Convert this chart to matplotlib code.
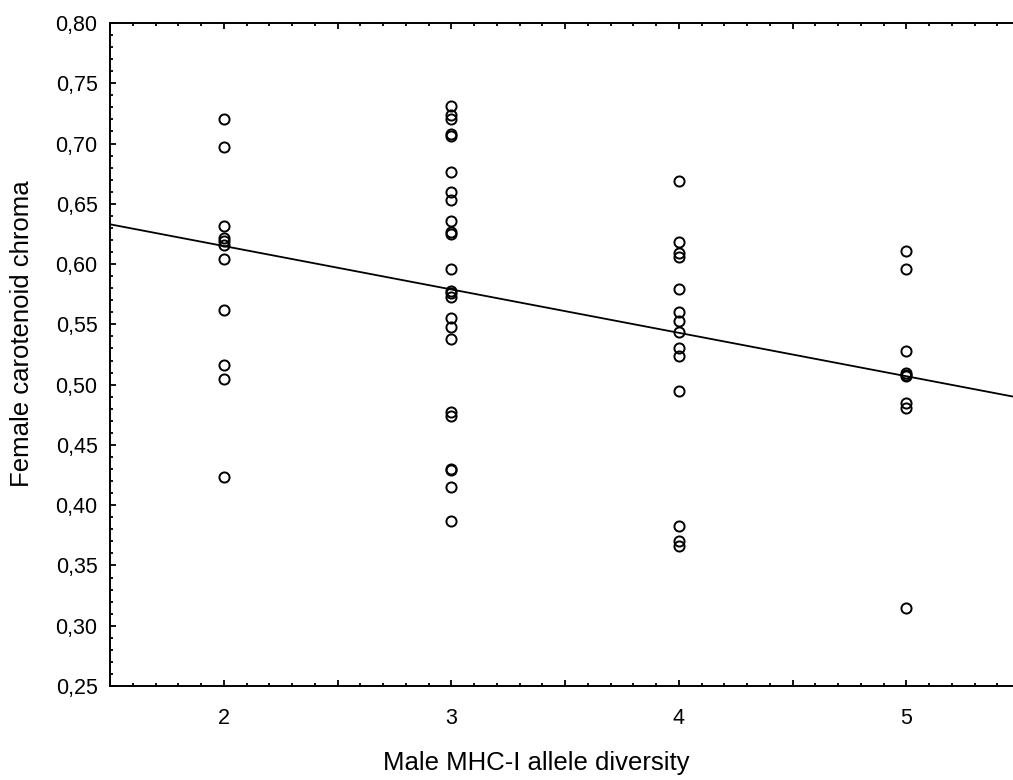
import matplotlib.pyplot as plt
import numpy as np
from matplotlib.ticker import MultipleLocator, FuncFormatter

plt.rcParams['font.family'] = ['Liberation Sans', 'DejaVu Sans']

# chroma values per allele-diversity group
chroma_2 = [0.720, 0.697, 0.632, 0.622, 0.619, 0.616, 0.604, 0.562, 0.516, 0.505, 0.423]
chroma_3 = [0.731, 0.724, 0.720, 0.708, 0.706, 0.676, 0.660, 0.653, 0.636, 0.627,
            0.625, 0.596, 0.578, 0.576, 0.573, 0.555, 0.548, 0.538, 0.477, 0.474,
            0.430, 0.429, 0.415, 0.387]
chroma_4 = [0.669, 0.618, 0.609, 0.606, 0.579, 0.560, 0.553, 0.544, 0.530, 0.524, 0.495,
            0.383, 0.370, 0.366]
chroma_5 = [0.611, 0.596, 0.528, 0.510, 0.508, 0.507, 0.485, 0.481, 0.315]

# regression line at the ends of the x range
fit_x = [1.5, 5.5]
fit_y = [0.633, 0.489]

groups = {2: chroma_2, 3: chroma_3, 4: chroma_4, 5: chroma_5}
x = np.concatenate([[k] * len(v) for k, v in groups.items()]).astype(float)
y = np.concatenate([v for v in groups.values()])

fig = plt.figure(figsize=(10.13, 7.8), dpi=100)
ax = fig.add_axes([110 / 1013, 1 - 686 / 780, 910 / 1013, 663 / 780])

ax.plot(x, y, 'o', mfc='none', mec='black', ms=7.3, mew=1.4, zorder=3)
ax.plot(fit_x, fit_y, color='black', lw=1.3, zorder=2)

ax.set_xlim(1.5, 5.5)
ax.set_ylim(0.25, 0.80)

ax.xaxis.set_major_locator(MultipleLocator(0.5))
ax.xaxis.set_minor_locator(MultipleLocator(0.1))
ax.xaxis.set_major_formatter(FuncFormatter(lambda v, p: f"{v:.0f}" if abs(v - round(v)) < 1e-6 and 2 <= v <= 5 else ""))
ax.yaxis.set_major_locator(MultipleLocator(0.05))
ax.yaxis.set_minor_locator(MultipleLocator(0.01))
ax.yaxis.set_major_formatter(FuncFormatter(lambda v, p: f"{v:.2f}".replace('.', ',')))

ax.tick_params(which='both', direction='in', top=True, right=False, labelsize=15.5, width=1.3)
ax.tick_params(which='major', length=4.5)
ax.tick_params(which='minor', length=2.5)
ax.tick_params(axis='x', which='major', pad=16)
ax.tick_params(axis='y', which='major', pad=9)
for s in ax.spines.values():
    s.set_linewidth(1.4)
ax.spines['right'].set_visible(False)

fig.text(536 / 1013, 1 - 763 / 780, 'Male MHC-I allele diversity', fontsize=18.5,
         ha='center', va='center')
fig.text(22 / 1013, 1 - 487 / 780, 'Female carotenoid chroma', fontsize=18.5,
         rotation=90, ha='center', va='bottom')

fig.savefig('out.png', dpi=100)
